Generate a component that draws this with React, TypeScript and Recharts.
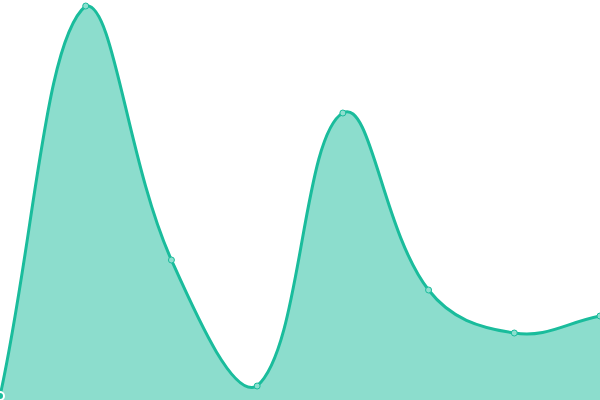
import React from "react"
import { Area, AreaChart, XAxis, YAxis } from "recharts"

const labels = ["A", "B", "C", "D", "E", "F", "G", "H"]
const values = [1, 98.5, 35, 3.5, 71.75, 27.5, 16.75, 21]

const data = labels.map((label, i) => ({ label, value: values[i] }))

const W = 600
const H = 400

// bezier spline like Chart.js (tension 0.4, control points capped to the chart area)
function splineCurve(context: any) {
  let pts: number[][] = []
  let line = NaN
  const t = 0.4
  const clampX = (v: number) => Math.max(0, Math.min(W, v))
  const clampY = (v: number) => Math.max(0, Math.min(H, v))
  return {
    areaStart() {
      line = 0
    },
    areaEnd() {
      line = NaN
    },
    lineStart() {
      pts = []
    },
    lineEnd() {
      const n = pts.length
      if (n) {
        if (line) context.lineTo(pts[0][0], pts[0][1])
        else context.moveTo(pts[0][0], pts[0][1])
        const cps = pts.map((cur, i) => {
          const prev = pts[i - 1] || cur
          const next = pts[i + 1] || cur
          const d01 = Math.hypot(cur[0] - prev[0], cur[1] - prev[1])
          const d12 = Math.hypot(next[0] - cur[0], next[1] - cur[1])
          let s01 = d01 / (d01 + d12)
          let s12 = d12 / (d01 + d12)
          if (isNaN(s01)) s01 = 0
          if (isNaN(s12)) s12 = 0
          const fa = t * s01
          const fb = t * s12
          return {
            px: clampX(cur[0] - fa * (next[0] - prev[0])),
            py: clampY(cur[1] - fa * (next[1] - prev[1])),
            nx: clampX(cur[0] + fb * (next[0] - prev[0])),
            ny: clampY(cur[1] + fb * (next[1] - prev[1])),
          }
        })
        for (let i = 1; i < n; i++) {
          context.bezierCurveTo(cps[i - 1].nx, cps[i - 1].ny, cps[i].px, cps[i].py, pts[i][0], pts[i][1])
        }
      }
      if (line || (line !== 0 && n === 1)) context.closePath()
      line = 1 - line
    },
    point(x: number, y: number) {
      pts.push([+x, +y])
    },
  }
}

export default function App() {
  return (
    <div style={{ position: "absolute", top: 0, left: 0 }}>
      <AreaChart width={W} height={H} data={data} margin={{ top: 0, right: 0, bottom: 0, left: 0 }}>
        <XAxis dataKey="label" hide />
        <YAxis hide domain={[0, 100]} />
        <Area
          type={splineCurve as any}
          dataKey="value"
          stroke="#1abc9c"
          strokeWidth={3}
          fill="#1abc9c"
          fillOpacity={0.5}
          dot={{ r: 3, fill: "#8ddfcf", stroke: "#1abc9c", strokeWidth: 1, fillOpacity: 1 }}
          isAnimationActive={false}
        />
      </AreaChart>
    </div>
  )
}
